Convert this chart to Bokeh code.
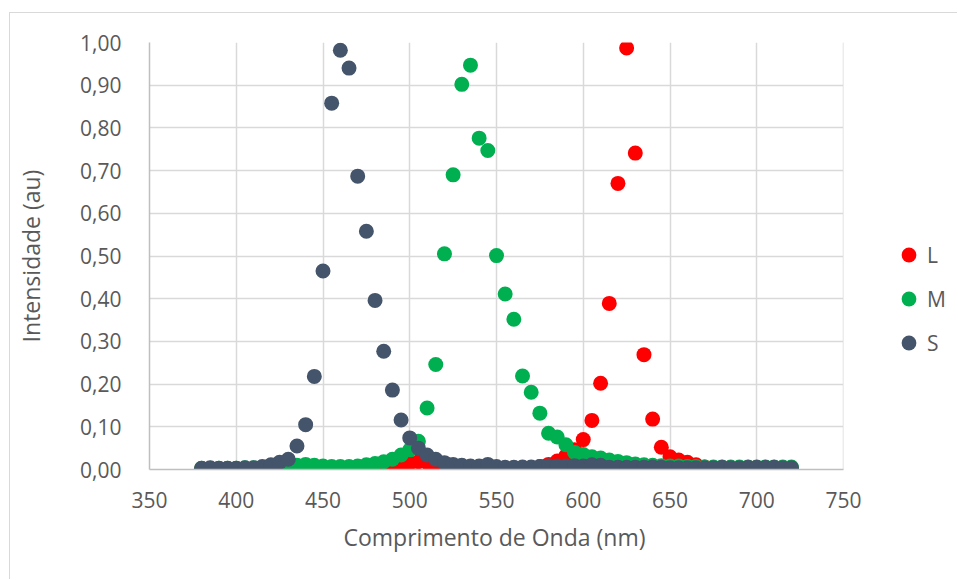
from bokeh.plotting import figure
from bokeh.models import (Legend, LegendItem, FixedTicker, CustomJSTickFormatter,
                          Range1d, ColumnDataSource, BoxAnnotation, Title)
from bokeh.embed import file_html
from bokeh.resources import INLINE

wavelength = [380, 385, 390, 395, 400, 405, 410, 415, 420, 425, 430, 435, 440, 445, 450,
              455, 460, 465, 470, 475, 480, 485, 490, 495, 500, 505, 510, 515, 520, 525,
              530, 535, 540, 545, 550, 555, 560, 565, 570, 575, 580, 585, 590, 595, 600,
              605, 610, 615, 620, 625, 630, 635, 640, 645, 650, 655, 660, 665, 670, 675,
              680, 685, 690, 695, 700, 705, 710, 715, 720]

L_vals = [0.000, 0.001, 0.000, 0.000, 0.001, 0.000, 0.000, 0.001, 0.000, 0.001, 0.000, 0.001,
          0.001, 0.001, 0.001, 0.000, 0.001, 0.001, 0.001, 0.002, 0.002, 0.003, 0.006, 0.010,
          0.015, 0.018, 0.016, 0.011, 0.007, 0.005, 0.004, 0.003, 0.002, 0.002, 0.002, 0.001,
          0.001, 0.002, 0.004, 0.007, 0.012, 0.020, 0.032, 0.046, 0.070, 0.115, 0.202, 0.389,
          0.670, 0.987, 0.741, 0.269, 0.118, 0.052, 0.030, 0.022, 0.017, 0.011, 0.006, 0.003,
          0.002, 0.001, 0.001, 0.001, 0.000, 0.000, 0.000, 0.000, 0.000]

M_vals = [0.003, 0.003, 0.003, 0.003, 0.003, 0.004, 0.004, 0.004, 0.005, 0.006, 0.008, 0.010,
          0.012, 0.010, 0.008, 0.007, 0.007, 0.007, 0.008, 0.011, 0.014, 0.018, 0.024, 0.034,
          0.046, 0.066, 0.144, 0.246, 0.505, 0.690, 0.902, 0.947, 0.776, 0.747, 0.501, 0.411,
          0.352, 0.219, 0.181, 0.132, 0.085, 0.076, 0.058, 0.040, 0.035, 0.030, 0.027, 0.022,
          0.019, 0.016, 0.013, 0.011, 0.010, 0.009, 0.008, 0.008, 0.007, 0.007, 0.006, 0.006,
          0.006, 0.006, 0.006, 0.006, 0.006, 0.006, 0.006, 0.006, 0.006]

S_vals = [0.003, 0.004, 0.003, 0.003, 0.003, 0.004, 0.004, 0.007, 0.011, 0.017, 0.024, 0.055,
          0.105, 0.218, 0.465, 0.858, 0.982, 0.940, 0.687, 0.558, 0.396, 0.277, 0.186, 0.116,
          0.074, 0.050, 0.034, 0.024, 0.016, 0.012, 0.010, 0.008, 0.008, 0.012, 0.007, 0.005,
          0.005, 0.006, 0.006, 0.007, 0.008, 0.008, 0.008, 0.009, 0.008, 0.011, 0.010, 0.005,
          0.005, 0.005, 0.005, 0.005, 0.006, 0.005, 0.004, 0.004, 0.004, 0.004, 0.004, 0.004,
          0.005, 0.004, 0.004, 0.005, 0.005, 0.005, 0.005, 0.004, 0.004]

series_names = ["L", "M", "S"]
series_colors = ["#FF0000", "#00B050", "#44546A"]

x_ticks = [350, 400, 450, 500, 550, 600, 650, 700, 750]
y_ticks = [0.0, 0.1, 0.2, 0.3, 0.4, 0.5, 0.6, 0.7, 0.8, 0.9, 1.0]
x_min, x_max = 350, 750
y_min, y_max = 0.0, 1.0

x_title = "Comprimento de Onda (nm)"
y_title = "Intensidade (au)"

FONT = "Open Sans"
TXT = "#595959"

# chart box starts at (10, 13) inside a light border; plot area 149..843 px wide
OFF_X, OFF_Y = 10, 13
W, H = 958 - OFF_X, 580 - OFF_Y
LEFT, RIGHT_AXIS_PX = 149 - OFF_X, 843 - OFF_X
px_per_unit = (RIGHT_AXIS_PX - LEFT) / (x_max - x_min)
x_end = x_min + (W - LEFT) / px_per_unit

p = figure(width=W, height=H, output_backend="svg", toolbar_location=None,
           x_range=Range1d(x_min, x_end), y_range=Range1d(y_min, y_max))
p.styles = {"margin-left": "9px", "margin-top": "12px",
            "border-left": "1px solid #D9D9D9", "border-top": "1px solid #D9D9D9"}
p.min_border_left = LEFT
p.min_border_right = 0
p.min_border_top = 42 - OFF_Y
p.min_border_bottom = H - (469 - OFF_Y)
p.outline_line_color = None
p.background_fill_color = "white"
p.border_fill_color = "white"

source = ColumnDataSource(dict(x=wavelength, L=L_vals, M=M_vals, S=S_vals))
renderers = []
for name, color in zip(series_names, series_colors):
    r = p.scatter("x", name, source=source, size=15, fill_color=color, line_color=color,
                  line_width=0)
    renderers.append(r)

# axes
p.xaxis.ticker = FixedTicker(ticks=x_ticks)
p.yaxis.ticker = FixedTicker(ticks=y_ticks)
p.xaxis.bounds = (x_min, x_max)
p.yaxis.formatter = CustomJSTickFormatter(code="return tick.toFixed(2).replace('.', ',');")
for ax in (p.xaxis, p.yaxis):
    ax.major_tick_line_color = None
    ax.minor_tick_line_color = None
    ax.axis_line_color = "#BFBFBF"
    ax.axis_line_width = 1.5
    ax.major_label_text_font = FONT
    ax.major_label_text_font_size = "21px"
    ax.major_label_text_color = TXT
    ax.axis_label_text_font = FONT
    ax.axis_label_text_font_size = "23px"
    ax.axis_label_text_font_style = "normal"
    ax.axis_label_text_color = TXT
p.yaxis.axis_label = y_title
p.xaxis.major_label_standoff = 16
p.yaxis.major_label_standoff = 22
p.yaxis.axis_label_standoff = 30

# x title, centred under the plot area
p.add_layout(Title(text=x_title, align="left", offset=194, text_font=FONT,
                   text_font_size="23px", text_font_style="normal", text_color=TXT,
                   standoff=16), "below")

p.xgrid.ticker = FixedTicker(ticks=x_ticks)
p.ygrid.ticker = FixedTicker(ticks=y_ticks)
for g in (p.xgrid, p.ygrid):
    g.grid_line_color = "#D9D9D9"
    g.grid_line_width = 1.5

# white cover for the grid beyond the plot area
p.add_layout(BoxAnnotation(left=x_max, left_units="data", fill_color="white", fill_alpha=1.0,
                           line_color=None, level="underlay"))

legend = Legend(items=[LegendItem(label=n, renderers=[r]) for n, r in zip(series_names, renderers)],
                location=(741, 108), orientation="vertical",
                label_text_font=FONT, label_text_font_size="21px", label_text_color=TXT,
                glyph_width=37, glyph_height=37, label_height=37, spacing=7,
                label_standoff=-12, padding=0, margin=0, border_line_color=None,
                background_fill_alpha=0)
p.add_layout(legend, "center")

open("out.html", "w").write(file_html(p, INLINE))
